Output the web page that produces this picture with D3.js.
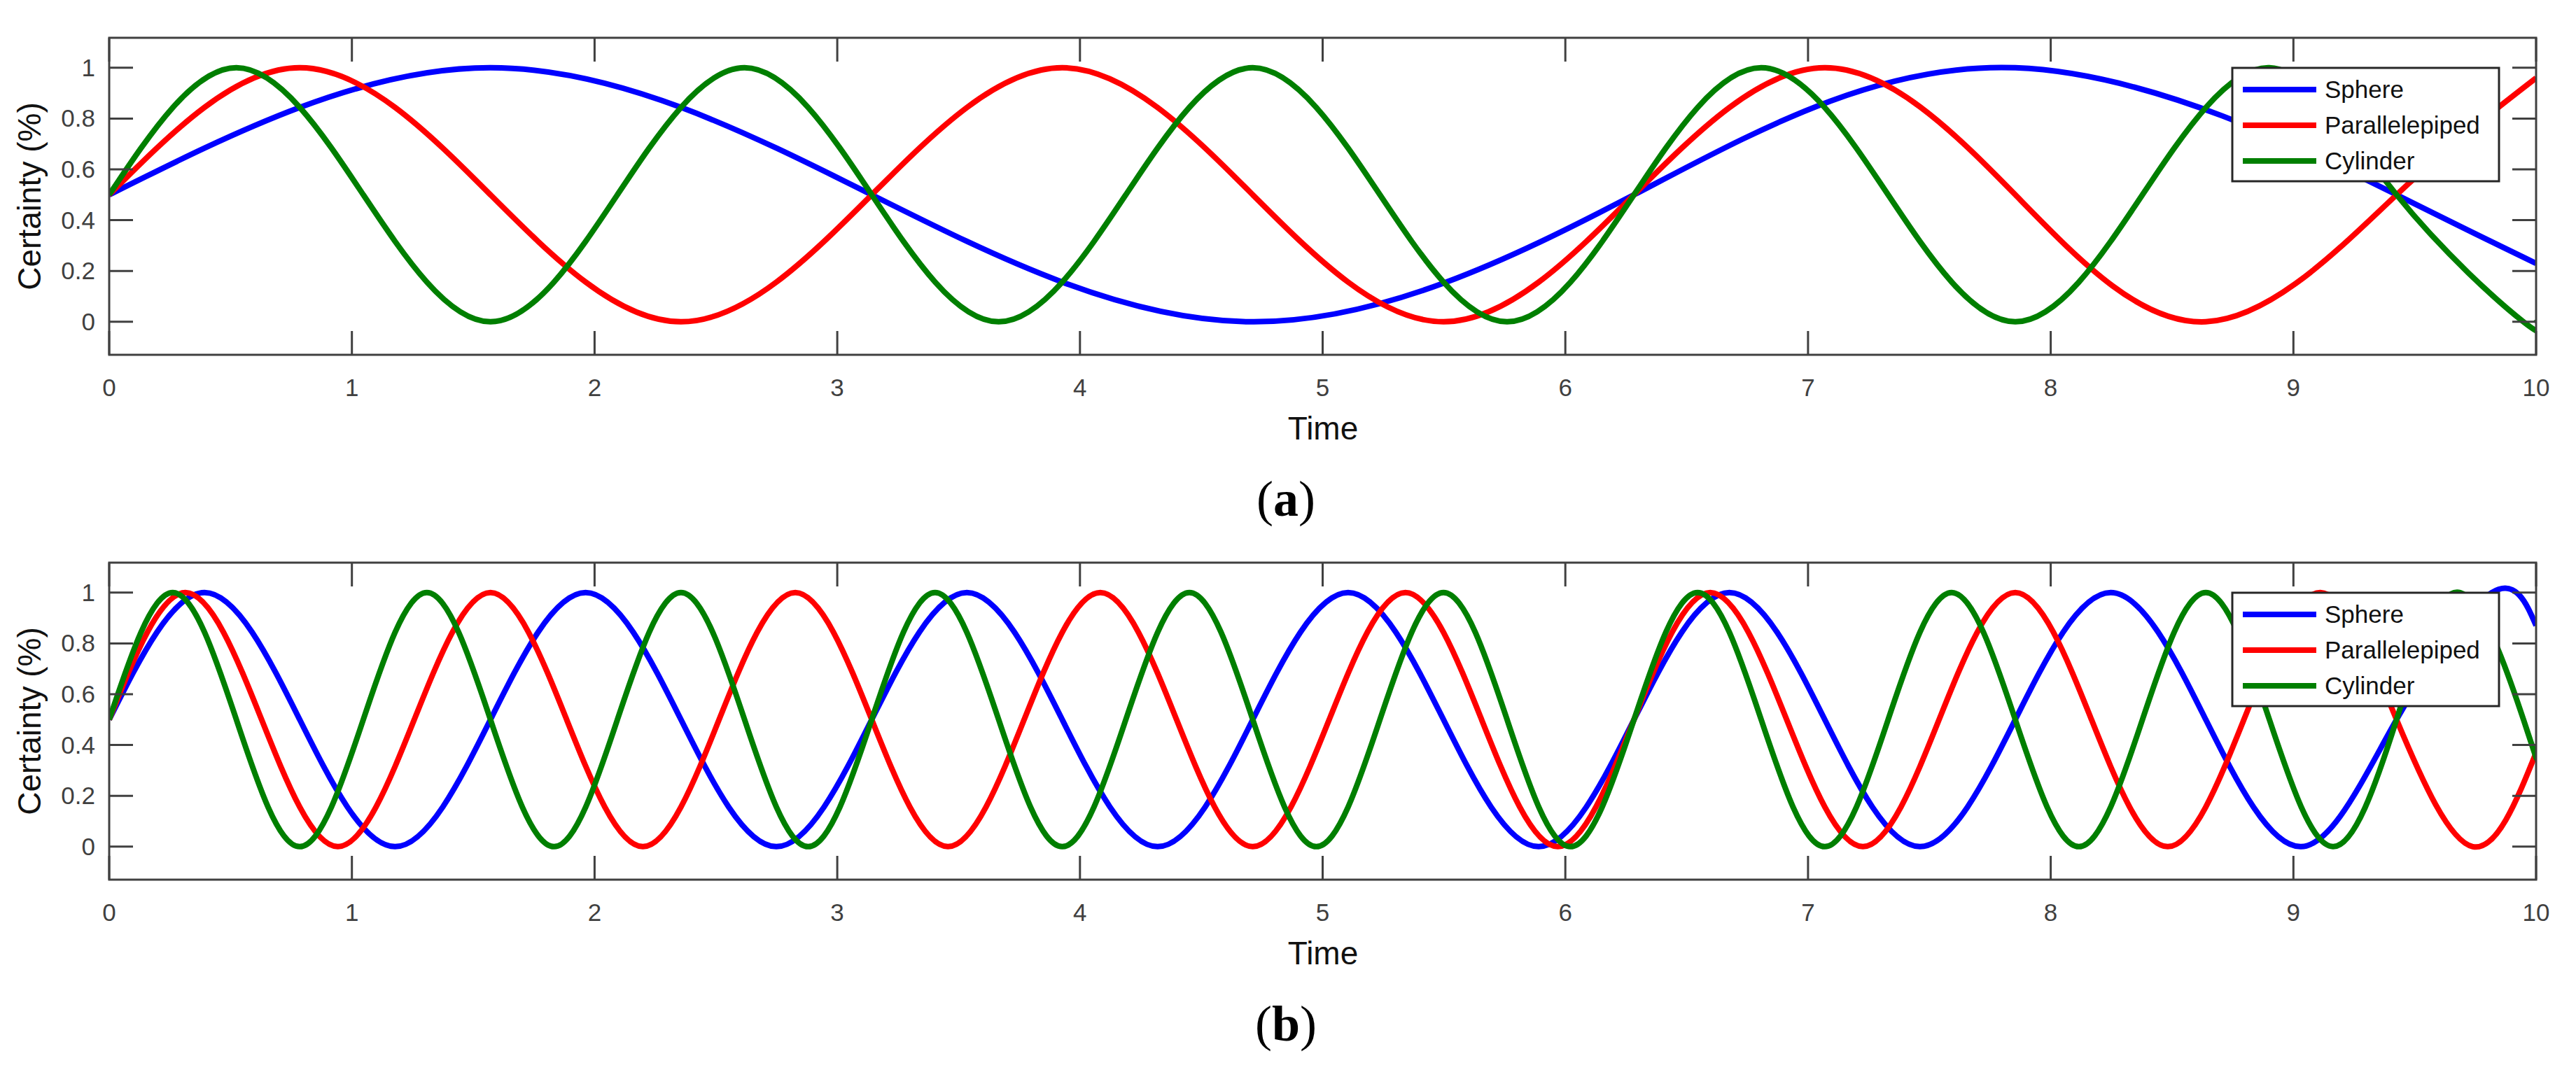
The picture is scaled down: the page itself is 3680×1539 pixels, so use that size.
<!DOCTYPE html>
<html>
<head>
<meta charset="utf-8">
<script src="https://cdn.jsdelivr.net/npm/d3@7"></script>
<style>
  body { margin: 0; background: #fff; }
  text { font-family: "Liberation Sans", Arial, sans-serif; }
</style>
</head>
<body>
<svg id="chart" width="3680" height="1539"></svg>
<script>
// key points (peaks, troughs, mid crossings, end values)
var xTicks = [0, 1, 2, 3, 4, 5, 6, 7, 8, 9, 10];
var yTicks = [0, 0.2, 0.4, 0.6, 0.8, 1];
var seriesNames = ['Sphere', 'Parallelepiped', 'Cylinder'];
var seriesColors = ['#0000ff', '#ff0000', '#007f00'];

var aSphereT = [0, 1.571, 3.142, 4.712, 6.283, 7.854, 9.425, 10];
var aSphereV = [.5, 1, .5, 0, .5, 1, .5, .23];
var aParaT = [0, 0.785, 1.571, 2.356, 3.142, 3.927, 4.712, 5.498, 6.283, 7.069, 7.854, 8.639, 9.425, 10];
var aParaV = [.5, 1, .5, 0, .5, 1, .5, 0, .5, 1, .5, 0, .5, .96];
var aCylT = [0, 0.524, 1.047, 1.571, 2.094, 2.618, 3.142, 3.665, 4.189, 4.712, 5.236, 5.760, 6.283, 6.807, 7.330, 7.854, 8.378, 8.901, 9.425, 9.948, 10];
var aCylV = [.5, 1, .5, 0, .5, 1, .5, 0, .5, 1, .5, 0, .5, 1, .5, 0, .5, 1, .5, 0, .01];

var bSphereT = [0, 0.393, 0.785, 1.178, 1.571, 1.963, 2.356, 2.749, 3.142, 3.534, 3.927, 4.320, 4.712, 5.105, 5.498, 5.890, 6.283, 6.676, 7.069, 7.461, 7.854, 8.247, 8.639, 9.032, 9.425, 9.817, 10];
var bSphereV = [.5, 1, .5, 0, .5, 1, .5, 0, .5, 1, .5, 0, .5, 1, .5, 0, .5, 1, .5, 0, .5, 1, .5, 0, .5, 1, .87];
var bParaT = [0, 0.314, 0.628, 0.942, 1.257, 1.571, 1.885, 2.199, 2.513, 2.827, 3.142, 3.456, 3.770, 4.084, 4.398, 4.712, 5.027, 5.341, 5.655, 5.969, 6.283, 6.597, 6.912, 7.226, 7.540, 7.854, 8.168, 8.482, 8.796, 9.111, 9.425, 9.739, 10];
var bParaV = [.5, 1, .5, 0, .5, 1, .5, 0, .5, 1, .5, 0, .5, 1, .5, 0, .5, 1, .5, 0, .5, 1, .5, 0, .5, 1, .5, 0, .5, 1, .5, 0, .37];
var bCylT = [0, 0.262, 0.524, 0.785, 1.047, 1.309, 1.571, 1.833, 2.094, 2.356, 2.618, 2.880, 3.142, 3.403, 3.665, 3.927, 4.189, 4.451, 4.712, 4.974, 5.236, 5.498, 5.760, 6.021, 6.283, 6.545, 6.807, 7.069, 7.330, 7.592, 7.854, 8.116, 8.378, 8.639, 8.901, 9.163, 9.425, 9.687, 9.948, 10];
var bCylV = [.5, 1, .5, 0, .5, 1, .5, 0, .5, 1, .5, 0, .5, 1, .5, 0, .5, 1, .5, 0, .5, 1, .5, 0, .5, 1, .5, 0, .5, 1, .5, 0, .5, 1, .5, 0, .5, 1, .5, .35];

var svg = d3.select('#chart');
var left = 156, right = 3623, top0 = 54, bottom0 = 507;

function panel(offset, label, series) {
    var g = svg.append('g').attr('transform', 'translate(0,' + offset + ')');
    var x = d3.scaleLinear().domain([0, 10]).range([left, right]);
    var y = d3.scaleLinear().domain([-0.13, 1.118]).range([bottom0, top0]);
    var id = 'clip' + label;

    g.append('clipPath').attr('id', id).append('rect')
        .attr('x', left).attr('y', top0).attr('width', right - left).attr('height', bottom0 - top0);

    var line = d3.line().x(function (d) { return x(d[0]); }).y(function (d) { return y(d[1]); })
        .curve(d3.curveNatural);

    series.forEach(function (s, i) {
        var pts = s[0].map(function (t, j) { return [t, s[1][j]]; });
        g.append('path').datum(pts).attr('d', line).attr('clip-path', 'url(#' + id + ')')
            .attr('fill', 'none').attr('stroke', seriesColors[i]).attr('stroke-width', 8);
    });

    // axes: ticks inside on all four sides
    var axisColor = '#404040';
    var tk = 34;
    g.append('rect').attr('x', left).attr('y', top0).attr('width', right - left).attr('height', bottom0 - top0)
        .attr('fill', 'none').attr('stroke', axisColor).attr('stroke-width', 3);
    g.selectAll('.xt').data(xTicks).enter().append('path')
        .attr('d', function (d) { return 'M' + x(d) + ',' + bottom0 + 'v' + (-tk) + 'M' + x(d) + ',' + top0 + 'v' + tk; })
        .attr('stroke', axisColor).attr('stroke-width', 3);
    g.selectAll('.yt').data(yTicks).enter().append('path')
        .attr('d', function (d) { return 'M' + left + ',' + y(d) + 'h' + tk + 'M' + right + ',' + y(d) + 'h' + (-tk); })
        .attr('stroke', axisColor).attr('stroke-width', 3);
    g.selectAll('.xl').data(xTicks).enter().append('text')
        .attr('x', function (d) { return x(d); }).attr('y', 566).attr('text-anchor', 'middle')
        .attr('font-size', 35).attr('fill', axisColor).text(function (d) { return d; });
    g.selectAll('.yl').data(yTicks).enter().append('text')
        .attr('x', 136).attr('y', function (d) { return y(d) + 12; }).attr('text-anchor', 'end')
        .attr('font-size', 35).attr('fill', axisColor).text(function (d) { return d; });

    g.append('text').attr('x', 1890).attr('y', 628).attr('text-anchor', 'middle')
        .attr('font-size', 46).attr('fill', '#111').text('Time');
    g.append('text').attr('transform', 'translate(58,' + ((top0 + bottom0) / 2) + ') rotate(-90)')
        .attr('text-anchor', 'middle').attr('font-size', 46).attr('fill', '#111').text('Certainty (%)');

    var cap = g.append('text').attr('x', 1837).attr('y', 737).attr('text-anchor', 'middle')
        .attr('font-size', 72).style('font-family', '"Liberation Serif", "Times New Roman", serif');
    cap.append('tspan').text('(');
    cap.append('tspan').attr('font-weight', 'bold').text(label);
    cap.append('tspan').text(')');

    // legend
    var lg = g.append('g');
    lg.append('rect').attr('x', 3189).attr('y', 97).attr('width', 381).attr('height', 162)
        .attr('fill', '#fff').attr('stroke', '#262626').attr('stroke-width', 3);
    seriesNames.forEach(function (n, i) {
        var yy = 128 + i * 51;
        lg.append('line').attr('x1', 3204).attr('x2', 3309).attr('y1', yy).attr('y2', yy)
            .attr('stroke', seriesColors[i]).attr('stroke-width', 8);
        lg.append('text').attr('x', 3321).attr('y', yy + 12).attr('font-size', 35)
            .attr('fill', '#111').text(n);
    });
}

panel(0, 'a', [[aSphereT, aSphereV], [aParaT, aParaV], [aCylT, aCylV]]);
panel(750, 'b', [[bSphereT, bSphereV], [bParaT, bParaV], [bCylT, bCylV]]);
</script>
</body>
</html>
